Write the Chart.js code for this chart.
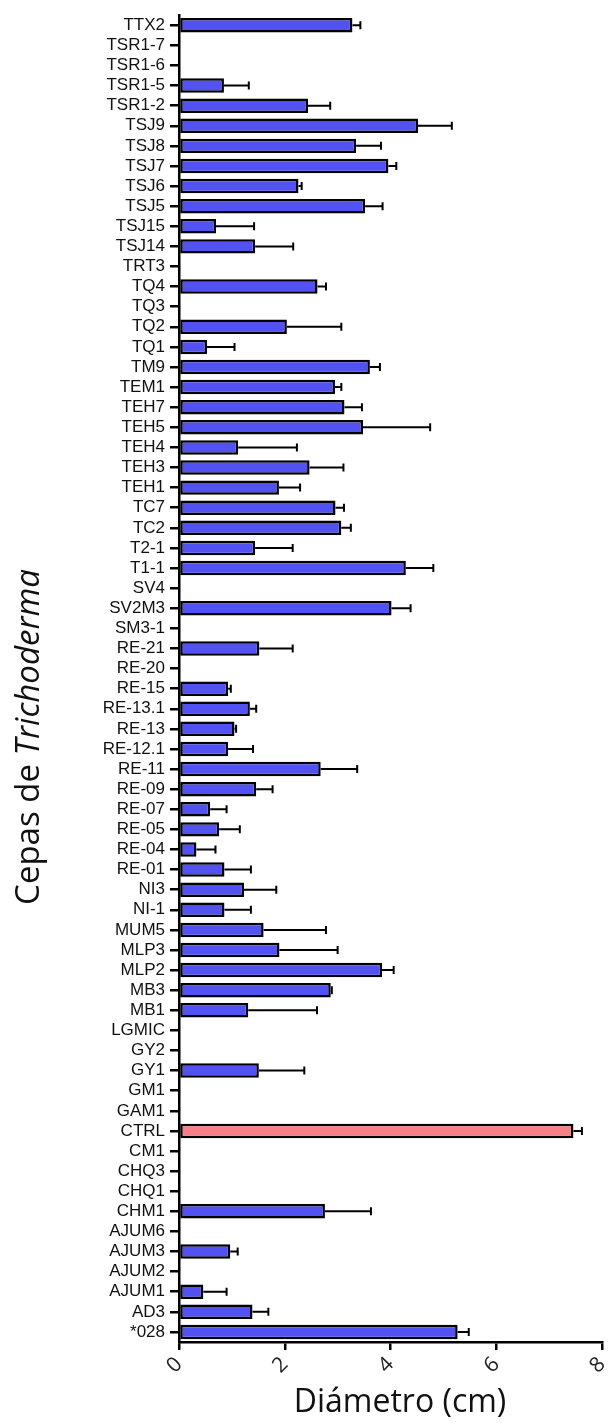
<!DOCTYPE html>
<html>
<head>
<meta charset="utf-8">
<script src="https://cdn.jsdelivr.net/npm/chart.js@4"></script>
<style>
  html, body { margin: 0; padding: 0; background: #fff; }
  #wrap { width: 608px; height: 1423px; }
</style>
</head>
<body>
<div id="wrap"><canvas id="chart" width="608" height="1423"></canvas></div>
<script>
// cepas (de arriba hacia abajo)
const cepas = ["TTX2", "TSR1-7", "TSR1-6", "TSR1-5", "TSR1-2", "TSJ9", "TSJ8", "TSJ7", "TSJ6", "TSJ5",
  "TSJ15", "TSJ14", "TRT3", "TQ4", "TQ3", "TQ2", "TQ1", "TM9", "TEM1", "TEH7",
  "TEH5", "TEH4", "TEH3", "TEH1", "TC7", "TC2", "T2-1", "T1-1", "SV4", "SV2M3",
  "SM3-1", "RE-21", "RE-20", "RE-15", "RE-13.1", "RE-13", "RE-12.1", "RE-11", "RE-09", "RE-07",
  "RE-05", "RE-04", "RE-01", "NI3", "NI-1", "MUM5", "MLP3", "MLP2", "MB3", "MB1",
  "LGMIC", "GY2", "GY1", "GM1", "GAM1", "CTRL", "CM1", "CHQ3", "CHQ1", "CHM1",
  "AJUM6", "AJUM3", "AJUM2", "AJUM1", "AD3", "*028"];

// diámetro medio (cm), null = sin crecimiento
const diametro = [3.28, null, null, 0.85, 2.44, 4.52, 3.35, 3.96, 2.26, 3.52,
  0.70, 1.44, null, 2.62, null, 2.04, 0.53, 3.61, 2.95, 3.13,
  3.48, 1.12, 2.47, 1.89, 2.96, 3.07, 1.44, 4.29, null, 4.02,
  null, 1.52, null, 0.93, 1.34, 1.05, 0.93, 2.68, 1.46, 0.59,
  0.76, 0.33, 0.86, 1.23, 0.86, 1.60, 1.90, 3.84, 2.87, 1.31,
  null, null, 1.51, null, null, 7.46, null, null, null, 2.76,
  null, 0.97, null, 0.46, 1.39, 5.27];

// desviación estándar
const desv = [0.15, null, null, 0.47, 0.42, 0.64, 0.47, 0.15, 0.06, 0.33,
  0.72, 0.72, null, 0.16, null, 1.03, 0.52, 0.19, 0.12, 0.33,
  1.27, 1.11, 0.64, 0.40, 0.16, 0.18, 0.71, 0.52, null, 0.36,
  null, 0.63, null, 0.05, 0.12, 0.03, 0.47, 0.69, 0.31, 0.31,
  0.39, 0.36, 0.50, 0.61, 0.50, 1.18, 1.10, 0.22, 0.02, 1.30,
  null, null, 0.86, null, null, 0.16, null, null, null, 0.87,
  null, 0.14, null, 0.44, 0.30, 0.21];

const xTicks = [0, 2, 4, 6, 8];

const colores = cepas.map(c => c === "CTRL" ? "#f77f86" : "#5252f2");

const fam = "'Open Sans', Lato, sans-serif";

// barras de error
const errorBars = {
  id: "errorBars",
  afterDatasetsDraw(chart) {
    const ctx = chart.ctx;
    const xs = chart.scales.x;
    const meta = chart.getDatasetMeta(0);
    ctx.save();
    ctx.strokeStyle = "#000";
    ctx.lineWidth = 2;
    meta.data.forEach((bar, i) => {
      if (diametro[i] == null || desv[i] == null) return;
      const x1 = xs.getPixelForValue(diametro[i] + desv[i]);
      ctx.beginPath();
      ctx.moveTo(bar.x, bar.y);
      ctx.lineTo(x1, bar.y);
      ctx.moveTo(x1, bar.y - 4);
      ctx.lineTo(x1, bar.y + 4);
      ctx.stroke();
    });
    ctx.restore();
  }
};

// títulos de los ejes ("Trichoderma" en cursiva)
const axisTitles = {
  id: "axisTitles",
  afterDraw(chart) {
    const ctx = chart.ctx;
    const size = 33;
    ctx.save();
    ctx.fillStyle = "#111";
    ctx.textBaseline = "middle";

    // eje x
    ctx.font = "32px " + fam;
    ctx.textAlign = "center";
    ctx.fillText("Diámetro (cm)", 400, 1403);

    // eje y
    ctx.textAlign = "left";
    ctx.translate(30, 737);
    ctx.rotate(-Math.PI / 2);
    ctx.font = size + "px " + fam;
    const a = "Cepas de ";
    const wa = ctx.measureText(a).width;
    ctx.font = "italic " + size + "px " + fam;
    const b = "Trichoderma";
    const wb = ctx.measureText(b).width;
    const x = -(wa + wb) / 2;
    ctx.font = size + "px " + fam;
    ctx.fillText(a, x, 0);
    ctx.font = "italic " + size + "px " + fam;
    ctx.fillText(b, x + wa, 0);
    ctx.restore();
  }
};

new Chart(document.getElementById("chart"), {
  type: "bar",
  data: {
    labels: cepas,
    datasets: [{
      data: diametro,
      backgroundColor: colores,
      borderColor: "#000",
      borderWidth: 2.5,
      borderSkipped: false,
      categoryPercentage: 1,
      barPercentage: 0.72
    }]
  },
  options: {
    indexAxis: "y",
    responsive: false,
    animation: false,
    devicePixelRatio: 1,
    layout: { padding: { top: 7, right: 6, bottom: 0, left: 0 } },
    plugins: {
      legend: { display: false },
      tooltip: { enabled: false }
    },
    scales: {
      y: {
        afterFit(scale) { scale.width = 179; },
        grid: {
          offset: false,
          drawOnChartArea: false,
          color: "#000",
          lineWidth: 2.5,
          tickLength: 9
        },
        border: { color: "#000", width: 2.5 },
        ticks: {
          color: "#111",
          padding: 5,
          autoSkip: false,
          font: { family: "'Liberation Sans', Arial, sans-serif", size: 17 }
        }
      },
      x: {
        min: 0,
        max: 8,
        afterFit(scale) {
          scale.height = 81;
          scale.paddingLeft = 0;
          scale.paddingRight = 0;
        },
        afterBuildTicks(scale) { scale.ticks = xTicks.map(v => ({ value: v })); },
        grid: {
          drawOnChartArea: false,
          color: "#000",
          lineWidth: 2.5,
          tickLength: 8
        },
        border: { color: "#000", width: 2.5 },
        ticks: {
          color: "#222",
          minRotation: 45,
          maxRotation: 45,
          padding: 2,
          font: { family: fam, size: 21 }
        },
        title: { display: false }
      }
    }
  },
  plugins: [errorBars, axisTitles]
});
</script>
</body>
</html>
